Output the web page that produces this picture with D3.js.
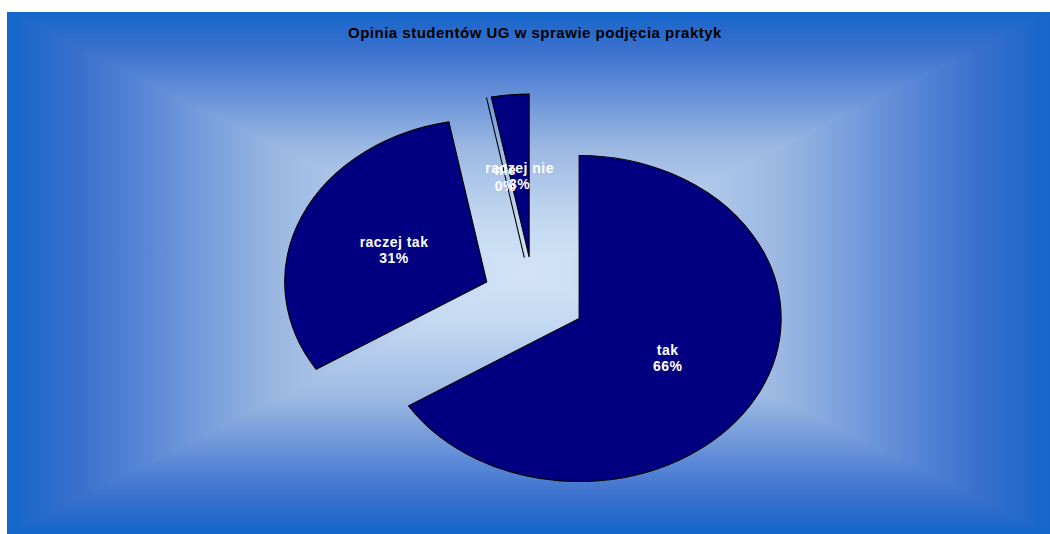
<!DOCTYPE html>
<html>
<head>
<meta charset="utf-8">
<script src="https://cdn.jsdelivr.net/npm/d3@7"></script>
<style>
  html, body { margin: 0; padding: 0; background: #ffffff; }
  svg { display: block; }
</style>
</head>
<body>
<svg id="chart" width="1050" height="534"></svg>
<script>
// Survey answers, in the order the slices run clockwise from 12 o'clock
const categories = ["tak", "raczej tak", "nie", "raczej nie"];
const values = [66, 31, 0, 3];
const percentLabels = ["66%", "31%", "0%", "3%"];
const title = "Opinia studentów UG w sprawie podjęcia praktyk";

const W = 1050, H = 534;
const svg = d3.select("#chart");

// Plot area with a rectangular "from centre" gradient
const area = { x: 7, y: 12, w: W - 7, h: H - 12 };
const cx0 = area.x + area.w / 2, cy0 = area.y + area.h / 2;
const stops = [
  [0, "#1466cb"], [0.14, "#3a70cd"], [0.27, "#5a88d6"],
  [0.52, "#9cb8e2"], [0.8, "#c3d8f1"], [1, "#d2e4f6"]
];
const defs = svg.append("defs");

// Under-layer so no seams show between the four gradient triangles
const base = defs.append("linearGradient").attr("id", "gBase")
  .attr("gradientUnits", "userSpaceOnUse")
  .attr("x1", area.x).attr("y1", 0).attr("x2", area.x + area.w).attr("y2", 0);
stops.forEach(s => base.append("stop").attr("offset", s[0] / 2).attr("stop-color", s[1]));
stops.slice().reverse().forEach(s => base.append("stop").attr("offset", 1 - s[0] / 2).attr("stop-color", s[1]));
svg.append("rect")
  .attr("x", area.x).attr("y", area.y).attr("width", area.w).attr("height", area.h)
  .attr("fill", "url(#gBase)");

const quads = [
  { id: "gT", pts: [[area.x, area.y], [area.x + area.w, area.y], [cx0, cy0]], from: [cx0, area.y] },
  { id: "gB", pts: [[area.x, area.y + area.h], [area.x + area.w, area.y + area.h], [cx0, cy0]], from: [cx0, area.y + area.h] },
  { id: "gL", pts: [[area.x, area.y], [area.x, area.y + area.h], [cx0, cy0]], from: [area.x, cy0] },
  { id: "gR", pts: [[area.x + area.w, area.y], [area.x + area.w, area.y + area.h], [cx0, cy0]], from: [area.x + area.w, cy0] }
];
quads.forEach(q => {
  const g = defs.append("linearGradient").attr("id", q.id)
    .attr("gradientUnits", "userSpaceOnUse")
    .attr("x1", q.from[0]).attr("y1", q.from[1])
    .attr("x2", cx0).attr("y2", cy0);
  stops.forEach(s => g.append("stop").attr("offset", s[0]).attr("stop-color", s[1]));
  svg.append("polygon")
    .attr("points", q.pts.map(p => p.join(",")).join(" "))
    .attr("fill", `url(#${q.id})`)
    .attr("shape-rendering", "crispEdges");
});

// Title
svg.append("text")
  .attr("x", 535).attr("y", 38)
  .attr("text-anchor", "middle")
  .attr("font-family", "Liberation Sans, Arial, sans-serif")
  .attr("font-weight", "bold")
  .attr("font-size", 15)
  .attr("letter-spacing", 0.5)
  .attr("fill", "#000")
  .text(title);

// Exploded elliptical pie
const center = { x: 534, y: 298.5 };
const rx = 202, ry = 163;
const explode = 0.255;

const data = categories.map((c, i) => ({ name: c, value: values[i], pct: percentLabels[i] }));
const pie = d3.pie().sort(null).value(d => d.value);
const arcs = pie(data);
const arcGen = d3.arc().innerRadius(0).outerRadius(ry);

const pieG = svg.append("g")
  .attr("transform", `translate(${center.x},${center.y})`);

arcs.forEach(a => {
  const mid = (a.startAngle + a.endAngle) / 2;
  a.dx = Math.sin(mid) * explode * rx;
  a.dy = -Math.cos(mid) * explode * ry;
  a.lx = a.dx + Math.sin(mid) * 0.5 * rx;
  a.ly = a.dy - Math.cos(mid) * 0.5 * ry;
});

pieG.selectAll("path.slice")
  .data(arcs)
  .join("path")
  .attr("class", "slice")
  .attr("transform", d => `translate(${d.dx},${d.dy}) scale(${rx / ry},1)`)
  .attr("d", arcGen)
  .attr("fill", "#000080")
  .attr("stroke", "#000")
  .attr("stroke-width", 1.1)
  .attr("stroke-linejoin", "miter")
  .attr("vector-effect", "non-scaling-stroke");

const labels = pieG.selectAll("text.lbl")
  .data(arcs)
  .join("text")
  .attr("class", "lbl")
  .attr("text-anchor", "middle")
  .attr("font-family", "Liberation Sans, Arial, sans-serif")
  .attr("font-weight", "bold")
  .attr("font-size", 14)
  .attr("letter-spacing", 0.5)
  .attr("fill", "#ffffff");
labels.append("tspan")
  .attr("x", d => d.lx).attr("y", d => d.ly - 3)
  .text(d => d.data.name);
labels.append("tspan")
  .attr("x", d => d.lx).attr("y", d => d.ly + 13)
  .text(d => d.data.pct);
</script>
</body>
</html>
